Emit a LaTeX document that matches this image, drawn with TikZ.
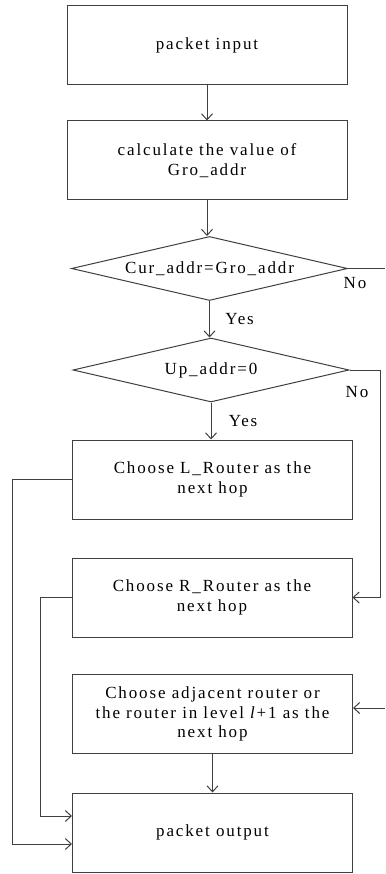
\documentclass[tikz,border=0pt]{standalone}
\usepackage{fontspec}
\setmainfont{Liberation Serif}[LetterSpace=11]
\usetikzlibrary{shapes.geometric,arrows.meta}
\tikzset{
  stepbox/.style={draw,minimum width=280pt,minimum height=79pt,align=center,inner sep=0pt},
  testbox/.style={draw,diamond,aspect=4.3,inner sep=0pt,minimum width=276pt,minimum height=64pt},
}
\begin{document}
\begin{tikzpicture}[x=1pt,y=-1pt,line width=1pt,black!75,text=black,
    font=\fontsize{17}{19.5}\selectfont,>={Straight Barb[length=6pt,width=11pt]}]
  \useasboundingbox (0,0) rectangle (385,874);
  \node[stepbox] (input) at (207,45) {packet input};
  \node[stepbox] (calc) at (207,160.5) {calculate the value of\\Gro\_addr};
  \node[testbox] (cur) at (209.5,268.5) {Cur\_addr=Gro\_addr};
  \node[testbox] (up) at (211,370) {Up\_addr=0};
  \node[stepbox] (left) at (212.5,479.5) {Choose L\_Router as the\\next hop};
  \node[stepbox] (right) at (212,597.5) {Choose R\_Router as the\\next hop};
  \node[stepbox] (adj) at (212.5,714) {Choose adjacent router or\\the router in level \textit{l}+1 as the\\next hop};
  \node[stepbox] (output) at (212.5,832.5) {packet output};
  \coordinate (noend) at (385,268.5);
  \coordinate (adjin) at (385,708);
  % main line
  \draw[->] (input) -- (calc);
  \draw[->] (calc.south) -- (calc.south |- cur.north);
  \draw[->] (cur.south) -- (cur.south |- up.north) node[midway,right=12pt,black] {Yes};
  \draw[->] (up.south) -- (up.south |- left.north) node[midway,right=14pt,black] {Yes};
  \draw[->] (adj) -- (output);
  % no branches
  \draw (cur.east) -- (noend);
  \node[black] (no1) at (355,283) {No};
  \draw[->] (up.east) -- ++(31,0) |- (right.east);
  \node[black] (no2) at (357,392) {No};
  \draw[->] (adjin) -- (adjin -| adj.east);
  % back to output
  \draw[->] (left.west) -- ++(-60,0) |- ([yshift=-11.5pt]output.west);
  \draw[->] (right.west) -- ++(-31,0) |- ([yshift=16.5pt]output.west);
\end{tikzpicture}
\end{document}
